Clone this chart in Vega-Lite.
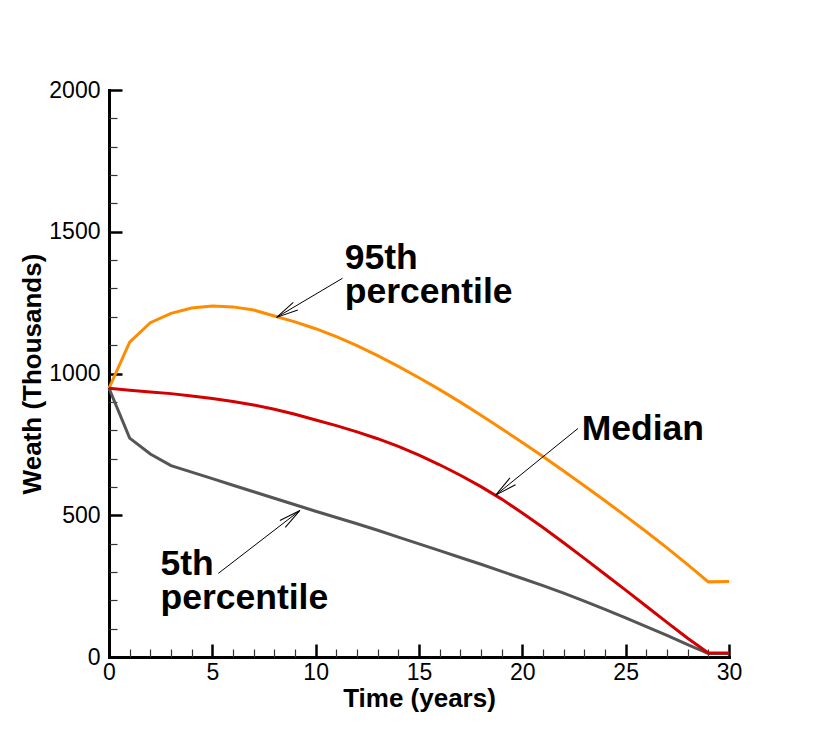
{
  "$schema": "https://vega.github.io/schema/vega-lite/v6.json",
  "width": 620,
  "height": 567,
  "autosize": {"type": "none"},
  "padding": {"left": 109, "top": 90, "right": 101, "bottom": 82},
  "background": "white",
  "config": {
    "view": {"stroke": null},
    "font": "Liberation Sans"
  },
  "datasets": {
    "wealth": [
      {"t": 0, "v": 948, "s": "95th"}, {"t": 1, "v": 1111, "s": "95th"}, {"t": 2, "v": 1179, "s": "95th"},
      {"t": 3, "v": 1212, "s": "95th"}, {"t": 4, "v": 1231, "s": "95th"}, {"t": 5, "v": 1238, "s": "95th"},
      {"t": 6, "v": 1235, "s": "95th"}, {"t": 7, "v": 1224, "s": "95th"}, {"t": 8, "v": 1203, "s": "95th"},
      {"t": 9, "v": 1182, "s": "95th"}, {"t": 10, "v": 1158, "s": "95th"}, {"t": 11, "v": 1130, "s": "95th"},
      {"t": 12, "v": 1098, "s": "95th"}, {"t": 13, "v": 1063, "s": "95th"}, {"t": 14, "v": 1025, "s": "95th"},
      {"t": 15, "v": 985, "s": "95th"}, {"t": 16, "v": 943, "s": "95th"}, {"t": 17, "v": 899, "s": "95th"},
      {"t": 18, "v": 853, "s": "95th"}, {"t": 19, "v": 805, "s": "95th"}, {"t": 20, "v": 757, "s": "95th"},
      {"t": 21, "v": 707, "s": "95th"}, {"t": 22, "v": 656, "s": "95th"}, {"t": 23, "v": 604, "s": "95th"},
      {"t": 24, "v": 551, "s": "95th"}, {"t": 25, "v": 497, "s": "95th"}, {"t": 26, "v": 442, "s": "95th"},
      {"t": 27, "v": 385, "s": "95th"}, {"t": 28, "v": 326, "s": "95th"}, {"t": 29, "v": 265, "s": "95th"},
      {"t": 30, "v": 266, "s": "95th"},
      {"t": 0, "v": 948, "s": "5th"}, {"t": 1, "v": 772, "s": "5th"}, {"t": 2, "v": 716, "s": "5th"},
      {"t": 3, "v": 675, "s": "5th"}, {"t": 4, "v": 652, "s": "5th"}, {"t": 5, "v": 629, "s": "5th"},
      {"t": 6, "v": 606, "s": "5th"}, {"t": 7, "v": 583, "s": "5th"}, {"t": 8, "v": 560, "s": "5th"},
      {"t": 9, "v": 537, "s": "5th"}, {"t": 10, "v": 514, "s": "5th"}, {"t": 11, "v": 492, "s": "5th"},
      {"t": 12, "v": 470, "s": "5th"}, {"t": 13, "v": 447, "s": "5th"}, {"t": 14, "v": 423, "s": "5th"},
      {"t": 15, "v": 399, "s": "5th"}, {"t": 16, "v": 375, "s": "5th"}, {"t": 17, "v": 351, "s": "5th"},
      {"t": 18, "v": 327, "s": "5th"}, {"t": 19, "v": 302, "s": "5th"}, {"t": 20, "v": 277, "s": "5th"},
      {"t": 21, "v": 252, "s": "5th"}, {"t": 22, "v": 225, "s": "5th"}, {"t": 23, "v": 197, "s": "5th"},
      {"t": 24, "v": 168, "s": "5th"}, {"t": 25, "v": 138, "s": "5th"}, {"t": 26, "v": 107, "s": "5th"},
      {"t": 27, "v": 76, "s": "5th"}, {"t": 28, "v": 44, "s": "5th"}, {"t": 29, "v": 12, "s": "5th"},
      {"t": 30, "v": 12, "s": "5th"},
      {"t": 0, "v": 948, "s": "Median"}, {"t": 1, "v": 941, "s": "Median"}, {"t": 2, "v": 935, "s": "Median"},
      {"t": 3, "v": 929, "s": "Median"}, {"t": 4, "v": 921, "s": "Median"}, {"t": 5, "v": 912, "s": "Median"},
      {"t": 6, "v": 901, "s": "Median"}, {"t": 7, "v": 889, "s": "Median"}, {"t": 8, "v": 874, "s": "Median"},
      {"t": 9, "v": 856, "s": "Median"}, {"t": 10, "v": 836, "s": "Median"}, {"t": 11, "v": 816, "s": "Median"},
      {"t": 12, "v": 794, "s": "Median"}, {"t": 13, "v": 770, "s": "Median"}, {"t": 14, "v": 743, "s": "Median"},
      {"t": 15, "v": 712, "s": "Median"}, {"t": 16, "v": 678, "s": "Median"}, {"t": 17, "v": 641, "s": "Median"},
      {"t": 18, "v": 601, "s": "Median"}, {"t": 19, "v": 557, "s": "Median"}, {"t": 20, "v": 508, "s": "Median"},
      {"t": 21, "v": 457, "s": "Median"}, {"t": 22, "v": 403, "s": "Median"}, {"t": 23, "v": 348, "s": "Median"},
      {"t": 24, "v": 292, "s": "Median"}, {"t": 25, "v": 236, "s": "Median"}, {"t": 26, "v": 179, "s": "Median"},
      {"t": 27, "v": 122, "s": "Median"}, {"t": 28, "v": 66, "s": "Median"}, {"t": 29, "v": 14, "s": "Median"},
      {"t": 30, "v": 14, "s": "Median"}
    ],
    "notes": [
      {"label": "95th", "text": "95th\npercentile", "tx": 11.41, "tv": 1368, "t": 11.3, "v": 1336, "t2": 8.11, "v2": 1198},
      {"label": "Median", "text": "Median", "tx": 22.87, "tv": 765, "t": 22.69, "v": 806, "t2": 18.71, "v2": 571},
      {"label": "5th", "text": "5th\npercentile", "tx": 2.49, "tv": 289, "t": 5.29, "v": 295, "t2": 9.24, "v2": 517}
    ]
  },
  "layer": [
    {
      "data": {"name": "wealth"},
      "mark": {"type": "line", "strokeWidth": 3},
      "encoding": {
        "x": {
          "field": "t", "type": "quantitative",
          "scale": {"domain": [0, 30], "nice": false, "zero": false},
          "axis": {
            "orient": "bottom", "values": [0, 5, 10, 15, 20, 25, 30], "format": "d",
            "grid": false, "tickSize": -13, "tickWidth": 2.5, "tickColor": "black",
            "domainColor": "black", "domainWidth": 3, "domainCap": "square",
            "labelFont": "Liberation Sans", "labelFontSize": 23, "labelColor": "black",
            "labelPadding": 17, "labelFlush": false, "labelOverlap": false,
            "title": "Time (years)", "titleFont": "Liberation Sans", "titleFontSize": 26,
            "titleFontWeight": "bold", "titleColor": "black", "titlePadding": 1
          }
        },
        "y": {
          "field": "v", "type": "quantitative",
          "scale": {"domain": [0, 2000], "nice": false},
          "axis": {
            "orient": "left", "values": [0, 500, 1000, 1500, 2000], "format": "d",
            "grid": false, "tickSize": -13, "tickWidth": 2.5, "tickColor": "black",
            "domainColor": "black", "domainWidth": 3, "domainCap": "square",
            "labelFont": "Liberation Sans", "labelFontSize": 23, "labelColor": "black",
            "labelPadding": 22, "labelFlush": false, "labelOverlap": false,
            "title": "Weath (Thousands)", "titleFont": "Liberation Sans", "titleFontSize": 26,
            "titleFontWeight": "bold", "titleColor": "black", "titlePadding": 3
          }
        },
        "color": {
          "field": "s", "type": "nominal", "legend": null,
          "scale": {"domain": ["95th", "5th", "Median"], "range": ["#ff8c00", "#555555", "#d40000"]}
        },
        "order": {"field": "t", "type": "quantitative"}
      }
    },
    {
      "data": {"name": "notes"},
      "mark": {"type": "rule", "color": "black", "strokeWidth": 1},
      "encoding": {
        "x": {"field": "t", "type": "quantitative", "axis": null},
        "y": {"field": "v", "type": "quantitative", "axis": null},
        "x2": {"field": "t2"},
        "y2": {"field": "v2"}
      }
    },
    {
      "data": {"name": "notes"},
      "mark": {"type": "point", "shape": "M -1 -0.2 L 0 0 L -1 0.2", "filled": false, "stroke": "black", "strokeWidth": 1, "opacity": 1},
      "encoding": {
        "x": {"field": "t2", "type": "quantitative", "axis": null},
        "y": {"field": "v2", "type": "quantitative", "axis": null},
        "size": {"value": 1936},
        "angle": {
          "condition": [
            {"test": "datum.label === '95th'", "value": 149.4},
            {"test": "datum.label === 'Median'", "value": 141}
          ],
          "value": 322.2
        }
      }
    },
    {
      "data": {"name": "notes"},
      "mark": {
        "type": "text", "align": "left", "baseline": "alphabetic", "lineBreak": "\n",
        "lineHeight": 34, "font": "Liberation Sans", "fontSize": 35.5, "fontWeight": "bold", "color": "black"
      },
      "encoding": {
        "x": {
          "field": "tx", "type": "quantitative",
          "axis": {
            "orient": "bottom", "domain": false, "labels": false, "title": null, "grid": false,
            "values": [1, 2, 3, 4, 6, 7, 8, 9, 11, 12, 13, 14, 16, 17, 18, 19, 21, 22, 23, 24, 26, 27, 28, 29],
            "tickSize": -8, "tickWidth": 1.2, "tickColor": "#333333"
          }
        },
        "y": {
          "field": "tv", "type": "quantitative",
          "axis": {
            "orient": "left", "domain": false, "labels": false, "title": null, "grid": false,
            "values": [100, 200, 300, 400, 600, 700, 800, 900, 1100, 1200, 1300, 1400, 1600, 1700, 1800, 1900],
            "tickSize": -8, "tickWidth": 1.2, "tickColor": "#333333"
          }
        },
        "text": {"field": "text"}
      }
    }
  ],
  "resolve": {"axis": {"x": "independent", "y": "independent"}}
}
